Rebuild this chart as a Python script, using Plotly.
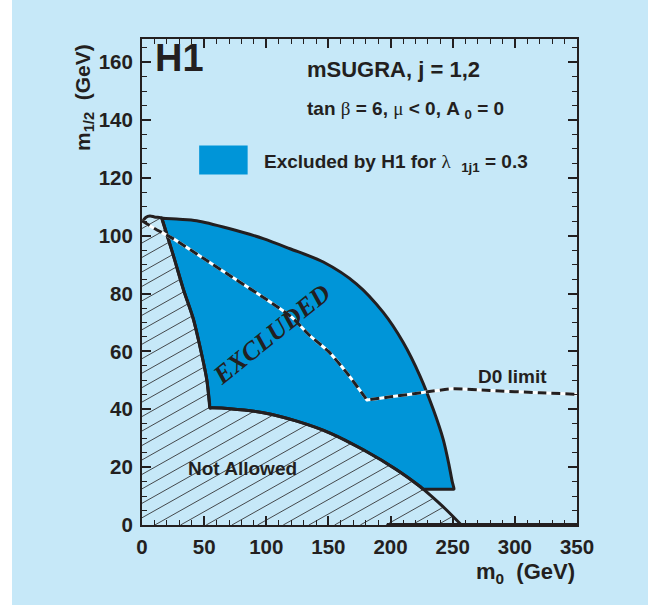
import numpy as np
import plotly.graph_objects as go

# ---------------- data (m0 [GeV], m1/2 [GeV]) ----------------
excl_m0 = [15.9, 17.0, 30, 44.0, 70, 97.6, 119.1, 145.9, 172.7, 194.1, 210.2, 223.7,
           234.4, 242.4, 247.0, 249.6, 250.8, 251.0, 250.0, 227.5, 226.3, 223.7, 204.9,
           178.1, 151.3, 124.5, 97.6, 70.8, 56.0, 54.7, 54.4, 52.1, 45.3, 41.3, 33.2,
           25.2, 16.8, 15.9]
excl_m12 = [106.1, 106.0, 105.7, 105.2, 102.5, 99.0, 95.5, 90.9, 83.3, 73.5, 63.1, 51.5,
            39.9, 29.5, 20.8, 15.0, 13.0, 12.4, 12.4, 12.4, 12.4, 13.3, 19.1,
            26.0, 31.8, 35.9, 38.8, 40.2, 40.5, 40.5, 42.0, 50.3, 64.2, 71.2, 81.6,
            93.2, 105.0, 106.1]

# boundary of the theoretically not allowed region
na_m0 = [0, 3, 6.4, 10, 15.0, 15.9, 16.6, 25.2, 33.2, 41.3, 45.3, 52.1, 54.2, 54.7,
         56.0, 70.8, 97.6, 124.5, 151.3, 178.1, 204.9, 223.7, 231.7, 245.0, 257.0]
na_m12 = [104.7, 106.3, 106.8, 106.5, 106.2, 106.1, 105.0, 93.2, 81.6, 71.2, 64.2,
          50.3, 42.0, 40.5, 40.5, 40.2, 38.8, 35.9, 31.8, 26.0, 19.1, 13.3, 10.4, 5.2, 0.0]

# D0 limit
d0_m0 = [0, 10, 25, 50, 75, 100, 120, 135, 150, 165, 179.5, 181, 182.5, 200, 226, 250,
         280, 320, 350]
d0_m12 = [105.2, 102.5, 99.0, 92.0, 85.0, 78.0, 72.0, 65.5, 60.0, 52.5, 44.1, 43.2,
          43.3, 44.3, 45.8, 47.1, 46.5, 45.7, 45.2]

# thick segment along the m0 axis
base_m0 = [197, 350]
base_m12 = [0, 0]

x_ticks = [0, 50, 100, 150, 200, 250, 300, 350]
y_ticks = [0, 20, 40, 60, 80, 100, 120, 140, 160]

# ---------------- style ----------------
BLUE = "#0095D8"
BG = "#C6E8F8"
INK = "#231F20"
FONT = "Liberation Sans"

# hatch lines clipped to the not-allowed polygon
poly_x = [0.0] + list(na_m0) + [0.0]
poly_y = [0.0] + list(na_m12) + [0.0]
slope, step = 0.242, 5.0
hx, hy = [], []
for c in np.arange(2.5 - 80, 110, step):
    pts = []
    for i in range(len(poly_x) - 1):
        x1, y1, x2, y2 = poly_x[i], poly_y[i], poly_x[i + 1], poly_y[i + 1]
        f1 = y1 - slope * x1 - c
        f2 = y2 - slope * x2 - c
        if (f1 > 0) != (f2 > 0):
            t = f1 / (f1 - f2)
            pts.append(x1 + t * (x2 - x1))
    pts.sort()
    for k in range(0, len(pts) - 1, 2):
        hx += [pts[k], pts[k + 1], None]
        hy += [slope * pts[k] + c, slope * pts[k + 1] + c, None]

fig = go.Figure()
fig.add_trace(go.Scatter(x=hx, y=hy, mode="lines", line=dict(color=INK, width=0.8),
                         hoverinfo="skip", showlegend=False))
fig.add_trace(go.Scatter(x=excl_m0, y=excl_m12, mode="lines", fill="toself",
                         fillcolor=BLUE,
                         line=dict(color=INK, width=3, shape="spline", smoothing=0.8,
                                   simplify=False),
                         showlegend=False))
fig.add_trace(go.Scatter(x=na_m0, y=na_m12, mode="lines",
                         line=dict(color=INK, width=3, shape="spline", smoothing=0.8,
                                   simplify=False),
                         showlegend=False))
fig.add_trace(go.Scatter(x=base_m0, y=base_m12, mode="lines",
                         line=dict(color=INK, width=4), showlegend=False,
                         cliponaxis=False))
fig.add_trace(go.Scatter(x=d0_m0, y=d0_m12, mode="lines",
                         line=dict(color="white", width=3, shape="spline",
                                   smoothing=0.6, simplify=False),
                         showlegend=False))
fig.add_trace(go.Scatter(x=d0_m0, y=d0_m12, mode="lines",
                         line=dict(color=INK, width=3, dash="9px,5px", shape="spline",
                                   smoothing=0.6, simplify=False),
                         showlegend=False))

L, R, T, B = 142, 71, 39, 80
W, H = 648, 605
pw, ph = W - L - R, H - T - B

axis_common = dict(showline=True, linecolor=INK, linewidth=2, mirror="allticks",
                   ticks="inside", ticklen=9, tickwidth=1.5, tickcolor=INK,
                   showgrid=False, zeroline=False,
                   tickfont=dict(family=FONT, size=20.5, color=INK, weight="bold"))

fig.update_layout(
    width=W, height=H,
    margin=dict(l=L, r=R, t=T, b=B),
    paper_bgcolor="white", plot_bgcolor="rgba(0,0,0,0)",
    xaxis=dict(range=[0, 350], tickvals=x_ticks, ticklabelstandoff=2,
               minor=dict(dtick=10, ticks="inside", ticklen=5, tickwidth=1.2,
                          tickcolor=INK), **axis_common),
    yaxis=dict(range=[0, 168], tickvals=y_ticks, ticklabelstandoff=3,
               minor=dict(dtick=5, ticks="inside", ticklen=5, tickwidth=1.2,
                          tickcolor=INK), **axis_common),
    shapes=[
        dict(type="rect", xref="paper", yref="paper", layer="below",
             x0=(12 - L) / pw, x1=(W - L) / pw + 0.01,
             y0=-(B + 2) / ph, y1=(H - T - 5) / ph + (T - 5) / ph,
             fillcolor=BG, line=dict(width=0)),
        dict(type="rect", xref="x", yref="y", x0=46, x1=85, y0=121.2, y1=131.2,
             fillcolor=BLUE, line=dict(width=0)),
    ],
    showlegend=False,
)

def ann(text, x, y, size, xanchor="left", yanchor="middle", xref="x", yref="y",
        angle=0, family=FONT, style="normal"):
    fig.add_annotation(text=text, x=x, y=y, xref=xref, yref=yref, showarrow=False,
                       xanchor=xanchor, yanchor=yanchor, textangle=angle,
                       font=dict(family=family, size=size, color=INK,
                                 weight="bold", style=style))

def sym(ch):
    return ("<span style=\"font-family:'Liberation Serif';font-weight:normal\">"
            + ch + "</span>")

ann("H1", 9, 161.5, 38)
ann("mSUGRA, j = 1,2", 131, 157.5, 22)
ann("tan " + sym("\u03b2") + " = 6, " + sym("\u03bc") + " < 0, A <sub>0</sub> = 0",
    131, 143.5, 19)
ann("Excluded by H1 for " + sym("\u03bb") + "  <sub>1j1</sub> = 0.3", 96.5, 125.3, 19)
ann("Not Allowed", 81, 19.5, 19, xanchor="center")
ann("D0 limit", 269, 51.5, 19)
ann("EXCLUDED", 104, 66, 26, xanchor="center", angle=-39,
    family="Liberation Serif", style="italic")
ann("m<sub>1/2</sub>  (GeV)", -(L - 84) / pw, (525 - 98) / ph, 21,
    xanchor="center", xref="paper", yref="paper", angle=-90)
ann("m<sub>0</sub>  (GeV)", 1.0, -(573 - 525) / ph, 22,
    xanchor="right", xref="paper", yref="paper")

fig.write_html("out.html")
